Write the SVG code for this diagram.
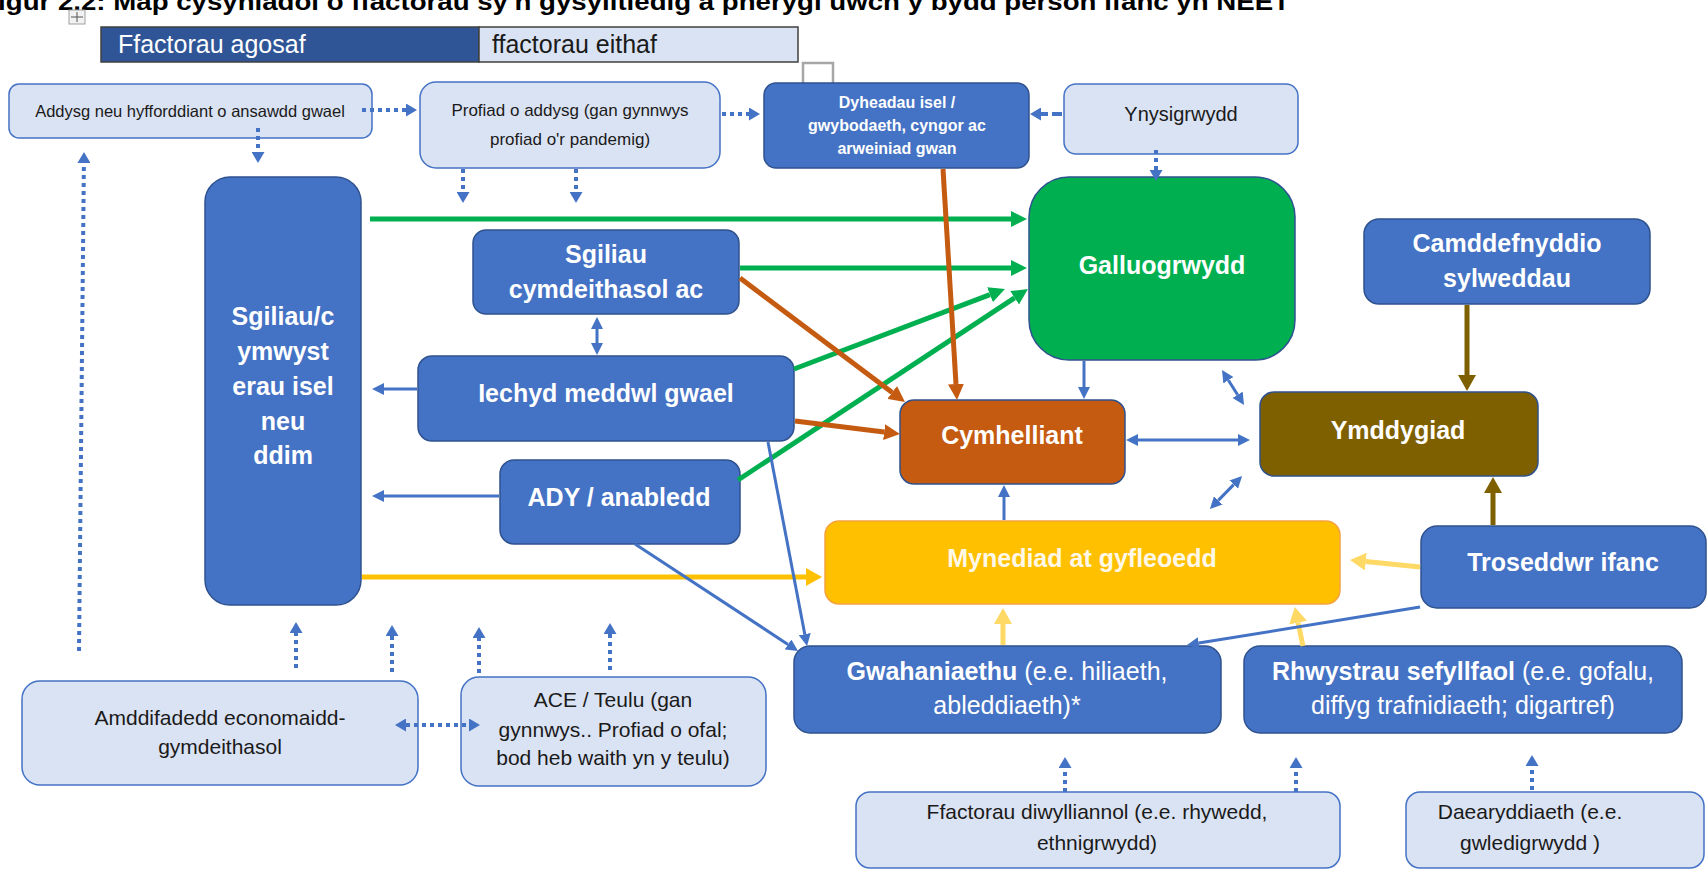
<svg xmlns="http://www.w3.org/2000/svg" width="1707" height="875" viewBox="0 0 1707 875">
<defs>
<style>
.t{font-family:'Liberation Sans',Arial,Helvetica,sans-serif;text-anchor:middle}
.w{fill:#fff;font-weight:bold}
.k{fill:#1a1a1a}
.lt{fill:#DAE3F3;stroke:#4472C4;stroke-width:1.5}
.bl{fill:#4472C4;stroke:#2F528F;stroke-width:1.5}
.s16{font-size:16px}.s17{font-size:17px}.s20{font-size:20px}.s21{font-size:21px}.s25{font-size:25px}
.g{stroke:#00B050;stroke-width:5;fill:none}
.o{stroke:#C55A11;stroke-width:5;fill:none}
.y{stroke:#FFC000;stroke-width:5;fill:none}
.yl{stroke:#FFD966;stroke-width:5;fill:none}
.br{stroke:#7F6000;stroke-width:5;fill:none}
.b{stroke:#4472C4;stroke-width:3;fill:none}
.d{stroke:#4472C4;stroke-width:4;fill:none;stroke-dasharray:4 4}
</style>
<marker id="mg" markerUnits="userSpaceOnUse" markerWidth="16" markerHeight="16" refX="0" refY="8" orient="auto"><path d="M0,0L16,8L0,16z" fill="#00B050"/></marker>
<marker id="mo" markerUnits="userSpaceOnUse" markerWidth="16" markerHeight="16" refX="0" refY="8" orient="auto"><path d="M0,0L16,8L0,16z" fill="#C55A11"/></marker>
<marker id="my" markerUnits="userSpaceOnUse" markerWidth="16" markerHeight="18" refX="0" refY="9" orient="auto"><path d="M0,0L16,9L0,18z" fill="#FFC000"/></marker>
<marker id="myl" markerUnits="userSpaceOnUse" markerWidth="16" markerHeight="18" refX="0" refY="9" orient="auto"><path d="M0,0L16,9L0,18z" fill="#FFD966"/></marker>
<marker id="mbr" markerUnits="userSpaceOnUse" markerWidth="16" markerHeight="18" refX="0" refY="9" orient="auto"><path d="M0,0L16,9L0,18z" fill="#7F6000"/></marker>
<marker id="mb" markerUnits="userSpaceOnUse" markerWidth="12" markerHeight="12" refX="0" refY="6" orient="auto-start-reverse"><path d="M0,0L12,6L0,12z" fill="#4472C4"/></marker>
<marker id="md" markerUnits="userSpaceOnUse" markerWidth="11" markerHeight="13" refX="0" refY="6.5" orient="auto-start-reverse"><path d="M0,0L11,6.5L0,13z" fill="#4472C4"/></marker>
</defs>
<rect width="1707" height="875" fill="#fff"/>

<text x="-28" y="10" textLength="1318" lengthAdjust="spacingAndGlyphs" style="font-family:'Liberation Sans',Arial,sans-serif;font-weight:bold;font-size:24px" fill="#000">Ffigur 2.2: Map cysyniadol o ffactorau sy'n gysylltiedig â pherygl uwch y bydd person ifanc yn NEET</text>

<g id="handle">
<rect x="69" y="10" width="16" height="14" fill="#f2f2f2" stroke="#a0a0a0" stroke-width="1"/>
<path d="M77,12V22M71,17H83" stroke="#555" stroke-width="1"/>
</g>

<g id="legend">
<rect x="101" y="27" width="378" height="35" fill="#2F5597" stroke="#404040" stroke-width="1.5"/>
<rect x="479" y="27" width="319" height="35" fill="#DAE3F3" stroke="#404040" stroke-width="1.5"/>
<text x="118" y="53" style="font-family:'Liberation Sans',Arial,sans-serif;font-size:25px" fill="#fff">Ffactorau agosaf</text>
<text x="492" y="53" style="font-family:'Liberation Sans',Arial,sans-serif;font-size:25px" fill="#1a1a1a">ffactorau eithaf</text>
</g>

<rect id="placeholder" x="803" y="63" width="30" height="24" fill="#fff" stroke="#A6A6A6" stroke-width="2.5"/>

<g id="n-addysg"><rect class="lt" x="9" y="84" width="363" height="54" rx="10"/>
<text class="t k" x="190" y="117" style="font-size:16.5px">Addysg neu hyfforddiant o ansawdd gwael</text></g>

<g id="n-profiad"><rect class="lt" x="420" y="82" width="300" height="86" rx="16"/>
<text class="t k s17" x="570" y="116">Profiad o addysg (gan gynnwys</text>
<text class="t k s17" x="570" y="145">profiad o'r pandemig)</text></g>

<g id="n-dyheadau"><rect class="bl" x="764" y="83" width="265" height="85" rx="12"/>
<text class="t w s16" x="897" y="108">Dyheadau isel /</text>
<text class="t w s16" x="897" y="131">gwybodaeth, cyngor ac</text>
<text class="t w s16" x="897" y="154">arweiniad gwan</text></g>

<g id="n-ynysigrwydd"><rect class="lt" x="1064" y="84" width="234" height="70" rx="12"/>
<text class="t k s20" x="1181" y="121">Ynysigrwydd</text></g>

<g id="n-galluogrwydd"><rect x="1029" y="177" width="266" height="183" rx="40" fill="#00B050" stroke="#2F528F" stroke-width="1.5"/>
<text class="t w s25" x="1162" y="274">Galluogrwydd</text></g>

<g id="n-camddefnyddio"><rect class="bl" x="1364" y="219" width="286" height="85" rx="15"/>
<text class="t w s25" x="1507" y="252">Camddefnyddio</text>
<text class="t w s25" x="1507" y="287">sylweddau</text></g>

<g id="n-sgiliau-cymwysterau"><rect class="bl" x="205" y="177" width="156" height="428" rx="25"/>
<text class="t w s25" x="283" y="325">Sgiliau/c</text>
<text class="t w s25" x="283" y="360">ymwyst</text>
<text class="t w s25" x="283" y="395">erau isel</text>
<text class="t w s25" x="283" y="430">neu</text>
<text class="t w s25" x="283" y="464">ddim</text></g>

<g id="n-sgiliau-cymdeithasol"><rect class="bl" x="473" y="230" width="266" height="84" rx="13"/>
<text class="t w s25" x="606" y="263">Sgiliau</text>
<text class="t w s25" x="606" y="298">cymdeithasol ac</text></g>

<g id="n-iechyd"><rect class="bl" x="418" y="356" width="376" height="85" rx="14"/>
<text class="t w s25" x="606" y="402">Iechyd meddwl gwael</text></g>

<g id="n-ady"><rect class="bl" x="500" y="460" width="240" height="84" rx="14"/>
<text class="t w s25" x="619" y="506">ADY / anabledd</text></g>

<g id="n-cymhelliant"><rect x="900" y="400" width="225" height="84" rx="14" fill="#C55A11" stroke="#2F528F" stroke-width="1.5"/>
<text class="t w s25" x="1012" y="444">Cymhelliant</text></g>

<g id="n-ymddygiad"><rect x="1260" y="392" width="278" height="84" rx="14" fill="#7F6000" stroke="#2F528F" stroke-width="1.5"/>
<text class="t w s25" x="1398" y="439">Ymddygiad</text></g>

<g id="n-mynediad"><rect x="825" y="521" width="515" height="83" rx="14" fill="#FFC000" stroke="#F4A340" stroke-width="1.5"/>
<text class="t s25" x="1082" y="567" style="font-weight:bold;fill:#FFF8E6">Mynediad at gyfleoedd</text></g>

<g id="n-troseddwr"><rect class="bl" x="1421" y="526" width="285" height="82" rx="16"/>
<text class="t w s25" x="1563" y="571">Troseddwr ifanc</text></g>

<g id="n-gwahaniaethu"><rect class="bl" x="794" y="646" width="427" height="87" rx="16"/>
<text class="t s25" x="1007" y="680" fill="#fff"><tspan font-weight="bold">Gwahaniaethu</tspan> (e.e. hiliaeth,</text>
<text class="t s25" x="1007" y="714" fill="#fff">ableddiaeth)*</text></g>

<g id="n-rhwystrau"><rect class="bl" x="1244" y="646" width="438" height="87" rx="16"/>
<text class="t s25" x="1463" y="680" fill="#fff"><tspan font-weight="bold">Rhwystrau sefyllfaol</tspan> (e.e. gofalu,</text>
<text class="t s25" x="1463" y="714" fill="#fff">diffyg trafnidiaeth; digartref)</text></g>

<g id="n-amddifadedd"><rect class="lt" x="22" y="681" width="396" height="104" rx="18"/>
<text class="t k s21" x="220" y="725">Amddifadedd economaidd-</text>
<text class="t k s21" x="220" y="754">gymdeithasol</text></g>

<g id="n-ace"><rect class="lt" x="461" y="677" width="305" height="109" rx="18"/>
<text class="t k s21" x="613" y="707">ACE / Teulu (gan</text>
<text class="t k s21" x="613" y="737">gynnwys.. Profiad o ofal;</text>
<text class="t k s21" x="613" y="765">bod heb waith yn y teulu)</text></g>

<g id="n-diwylliannol"><rect class="lt" x="856" y="792" width="484" height="76" rx="14"/>
<text class="t k s21" x="1097" y="819">Ffactorau diwylliannol (e.e. rhywedd,</text>
<text class="t k s21" x="1097" y="850">ethnigrwydd)</text></g>

<g id="n-daearyddiaeth"><rect class="lt" x="1406" y="792" width="298" height="76" rx="14"/>
<text class="t k s21" x="1530" y="819">Daearyddiaeth (e.e.</text>
<text class="t k s21" x="1530" y="850">gwledigrwydd )</text></g>

<g id="connectors">
<path class="g" d="M370,219H1011" marker-end="url(#mg)"/>
<path class="g" d="M740,268H1011" marker-end="url(#mg)"/>
<path class="g" d="M794,369L990,294.7" marker-end="url(#mg)"/>
<path class="g" d="M738,480L1014.6,297.8" marker-end="url(#mg)"/>
<path class="o" d="M943,169L956,384" marker-end="url(#mo)"/>
<path class="o" d="M740,278L892.2,392.4" marker-end="url(#mo)"/>
<path class="o" d="M795,421L884.1,432.1" marker-end="url(#mo)"/>
<path class="y" d="M362,577H806" marker-end="url(#my)"/>
<path class="yl" d="M1420,567L1365.9,561.6" marker-end="url(#myl)"/>
<path class="yl" d="M1003,645V624" marker-end="url(#myl)"/>
<path class="yl" d="M1303,646L1298.1,622.7" marker-end="url(#myl)"/>
<path class="br" d="M1467,305V375" marker-end="url(#mbr)"/>
<path class="br" d="M1493,525V493" marker-end="url(#mbr)"/>
<path class="b" d="M417,389H384" marker-end="url(#mb)"/>
<path class="b" d="M499,496H384" marker-end="url(#mb)"/>
<path class="b" d="M597,329V343" marker-start="url(#mb)" marker-end="url(#mb)"/>
<path class="b" d="M1084,361V387" marker-end="url(#mb)"/>
<path class="b" d="M1228.4,380.2L1237.6,394.8" marker-start="url(#mb)" marker-end="url(#mb)"/>
<path class="b" d="M1138,440H1238" marker-start="url(#mb)" marker-end="url(#mb)"/>
<path class="b" d="M1218.3,500.4L1233.7,484.6" marker-start="url(#mb)" marker-end="url(#mb)"/>
<path class="b" d="M1004,520V497" marker-end="url(#mb)"/>
<path class="b" d="M768,442L804.8,634.2" marker-end="url(#mb)"/>
<path class="b" d="M635,544L788,644.4" marker-end="url(#mb)"/>
<path class="b" d="M1420,607L1198.8,643.1" marker-end="url(#mb)"/>
<path class="d" d="M362,110H406" marker-end="url(#md)"/>
<path class="d" d="M258,128V152" marker-end="url(#md)"/>
<path class="d" d="M722,114H749" marker-end="url(#md)"/>
<path class="d" d="M463,169V192" marker-end="url(#md)"/>
<path class="d" d="M576,169V192" marker-end="url(#md)"/>
<path class="d" d="M1062,114H1041" style="stroke-dasharray:10 4" marker-end="url(#md)"/>
<path class="d" d="M1156,150V170" marker-end="url(#md)"/>
<path class="d" d="M79,651L83.9,163" marker-end="url(#md)"/>
<path class="d" d="M296,668V633" marker-end="url(#md)"/>
<path class="d" d="M392,672V636" marker-end="url(#md)"/>
<path class="d" d="M479,673V638" marker-end="url(#md)"/>
<path class="d" d="M610,670V634" marker-end="url(#md)"/>
<path class="d" d="M406,725H469" marker-start="url(#md)" marker-end="url(#md)"/>
<path class="d" d="M1065,792V768" marker-end="url(#md)"/>
<path class="d" d="M1296,792V768" marker-end="url(#md)"/>
<path class="d" d="M1532,790V766" marker-end="url(#md)"/>
</g>
</svg>
